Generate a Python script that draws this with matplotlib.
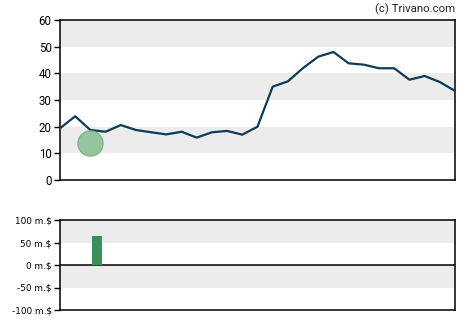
import numpy as np
import matplotlib.pyplot as plt

# price series (one point per period)
price = [19.4, 23.9, 18.75, 18.1, 20.6, 18.75, 17.9, 17.1, 18.1, 15.9, 17.9, 18.4,
         17.0, 20.0, 35.0, 37.0, 42.0, 46.25, 48.0, 43.75, 43.25, 41.9, 41.9,
         37.6, 39.0, 36.75, 33.4]
# event bubble
bubble_idx = [2]
bubble_val = [13.75]
# bottom bar chart (millions $)
bar_idx = [2.45]
bar_val = [65]
top_ticks = [0, 10, 20, 30, 40, 50, 60]
bottom_ticks = [-100, -50, 0, 50, 100]
bottom_labels = ['-100 m.$', '-50 m.$', '0 m.$', '50 m.$', '100 m.$']

W, H = 470, 325
fig = plt.figure(figsize=(W / 100, H / 100), dpi=100)

def box(l, t, r, b):
    return [l / W, 1 - b / H, (r - l) / W, (b - t) / H]

band = '#ececec'
x = np.arange(len(price))

ax = fig.add_axes(box(60, 20, 455, 180))
for lo in (10, 30, 50):
    ax.axhspan(lo, lo + 10, color=band, lw=0, zorder=0)
ax.plot(x, price, color='#0f3a57', lw=1.6, zorder=3)
ax.scatter(bubble_idx, bubble_val, s=330, color='#8fc49a', edgecolor='#72b082',
           lw=0.8, alpha=0.95, zorder=4)
ax.set_xlim(0, len(price) - 1)
ax.set_ylim(0, 60)
ax.set_yticks(top_ticks)
ax.set_xticks([])
ax.tick_params(axis='y', length=4, width=1, pad=2, labelsize=8.3)
for lab in ax.get_yticklabels():
    lab.set_fontfamily('Roboto')
for s in ax.spines.values():
    s.set_linewidth(1.1)

bx = fig.add_axes(box(60, 220, 455, 310))
bx.axhspan(50, 100, color=band, lw=0, zorder=0)
bx.axhspan(-50, 0, color=band, lw=0, zorder=0)
bx.axhline(0, color='black', lw=1.1, zorder=2)
bx.bar(bar_idx, bar_val, width=0.64, color='#379159', zorder=3)
bx.set_xlim(0, len(price) - 1)
bx.set_ylim(-100, 100)
bx.set_yticks(bottom_ticks)
bx.set_yticklabels(bottom_labels)
bx.set_xticks([])
bx.tick_params(axis='y', length=4, width=1, pad=2, labelsize=6.4)
for s in bx.spines.values():
    s.set_linewidth(1.1)

fig.text(455 / W, 1 - 9 / H, '(c) Trivano.com', ha='right', va='center',
         fontsize=8.2, fontfamily='Roboto', color='#222222')

fig.savefig('out.png', dpi=100)
